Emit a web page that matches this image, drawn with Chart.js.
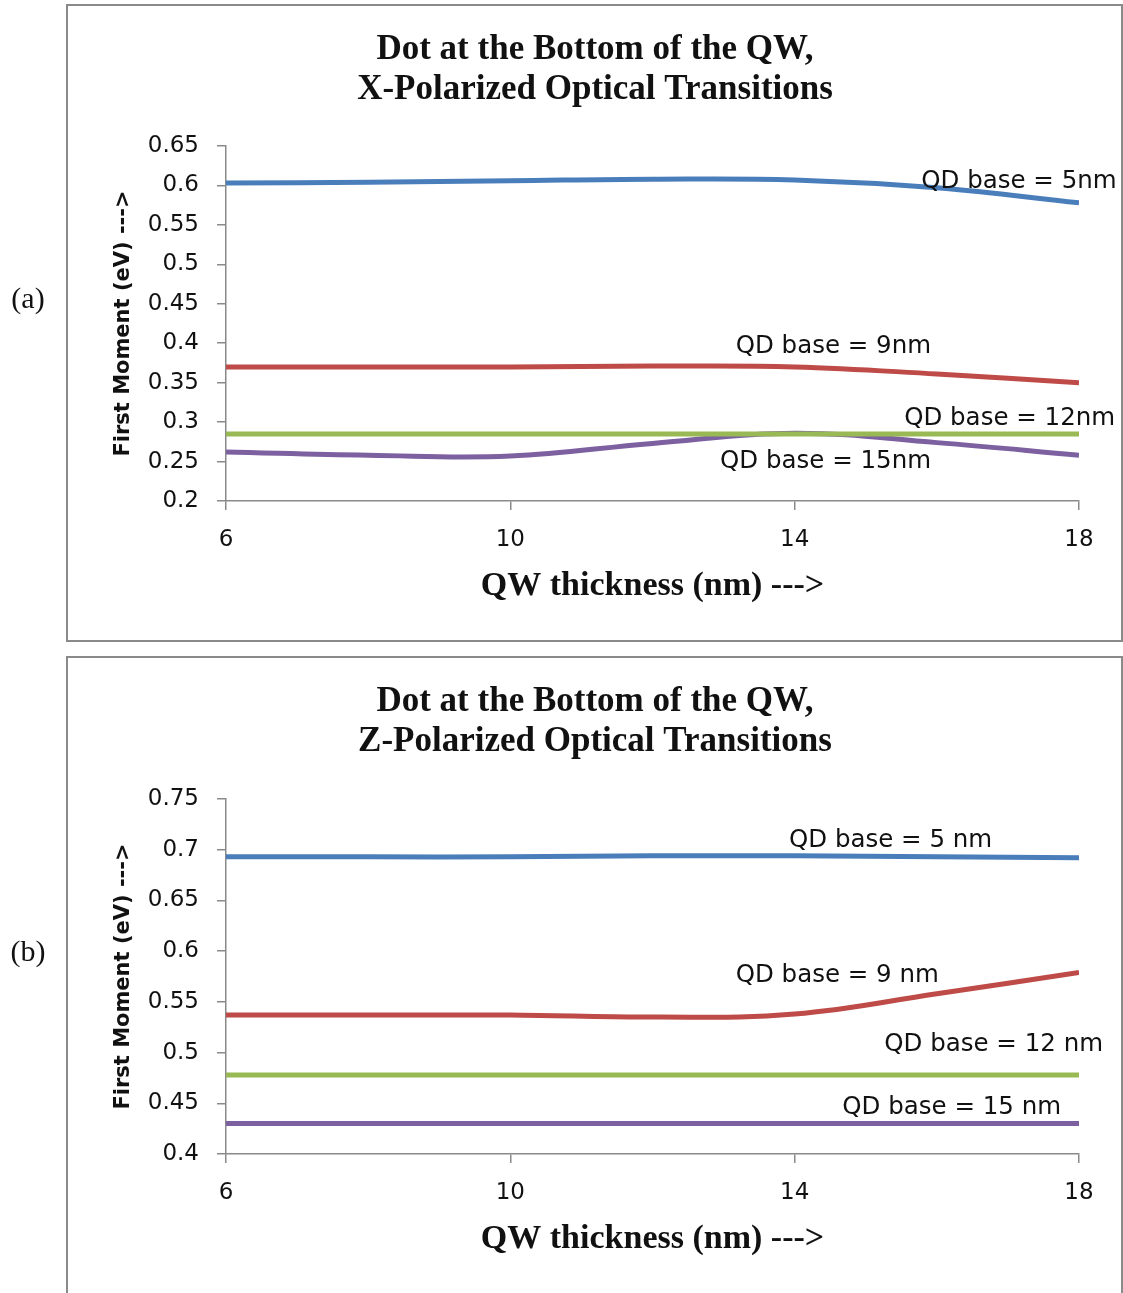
<!DOCTYPE html>
<html>
<head>
<meta charset="utf-8">
<script src="https://cdn.jsdelivr.net/npm/chart.js@4"></script>
<style>
  body { margin: 0; background: #fff; width: 1123px; height: 1293px; overflow: hidden; position: relative; }
  .panel { position: absolute; left: 0; width: 1123px; }
</style>
</head>
<body>
<div class="panel" style="top:0;height:650px"><canvas id="chartX"></canvas></div>
<div class="panel" style="top:653px;height:640px"><canvas id="chartZ"></canvas></div>
<script>
// QW thickness (nm) at which the first moment was computed
const thickness = [6, 8, 10, 12, 14, 16, 18];
const thicknessTicks = [6, 10, 14, 18];

// (a) X-polarized transitions, first moment in eV
const xBase5  = [0.603, 0.604, 0.606, 0.608, 0.607, 0.597, 0.578];
const xBase9  = [0.370, 0.370, 0.370, 0.371, 0.370, 0.361, 0.350];
const xBase12 = [0.285, 0.285, 0.285, 0.285, 0.285, 0.285, 0.285];
const xBase15 = [0.262, 0.258, 0.257, 0.273, 0.286, 0.274, 0.258];
const xTicksY = [0.2, 0.25, 0.3, 0.35, 0.4, 0.45, 0.5, 0.55, 0.6, 0.65];
const xNames  = ['QD base = 5nm', 'QD base = 9nm', 'QD base = 12nm', 'QD base = 15nm'];

// (b) Z-polarized transitions, first moment in eV
const zBase5  = [0.693, 0.693, 0.693, 0.694, 0.694, 0.693, 0.692];
const zBase9  = [0.537, 0.537, 0.537, 0.535, 0.538, 0.558, 0.579];
const zBase12 = [0.478, 0.478, 0.478, 0.478, 0.478, 0.478, 0.478];
const zBase15 = [0.430, 0.430, 0.430, 0.430, 0.430, 0.430, 0.430];
const zTicksY = [0.4, 0.45, 0.5, 0.55, 0.6, 0.65, 0.7, 0.75];
const zNames  = ['QD base = 5 nm', 'QD base = 9 nm', 'QD base = 12 nm', 'QD base = 15 nm'];

const lineColors = ['#4a7ebb', '#be4b48', '#98b954', '#7d60a0'];
const axisGray = '#8a8a8a';

// where each series name sits, in axis units (left edge, vertical middle)
const xTagSpots = [[15.78, 0.605], [13.17, 0.396], [15.54, 0.305], [12.95, 0.250]];
const zTagSpots = [[13.92, 0.709], [13.17, 0.576], [15.26, 0.508], [14.67, 0.446]];

const panelDecor = {
    id: 'panelDecor',
    beforeDraw(chart, args, opts) {
        const ctx = chart.ctx;
        ctx.save();
        ctx.strokeStyle = axisGray;
        ctx.lineWidth = 2;
        ctx.strokeRect(67, opts.boxTop, 1055, opts.boxHeight);
        ctx.fillStyle = '#111';
        ctx.textAlign = 'center';
        ctx.textBaseline = 'middle';
        ctx.font = '30px "Liberation Serif"';
        ctx.fillText(opts.letter, 28, 300);
        ctx.font = 'bold 35px "Liberation Serif"';
        opts.title.forEach((line, i) => ctx.fillText(line, 595, opts.titleY + i * 40));
        ctx.restore();
    },
    afterDatasetsDraw(chart, args, opts) {
        const {ctx, scales} = chart;
        ctx.save();
        ctx.fillStyle = '#111';
        ctx.textAlign = 'left';
        ctx.textBaseline = 'middle';
        ctx.font = '24.5px "DejaVu Sans"';
        opts.names.forEach((name, i) => {
            const [vx, vy] = opts.spots[i];
            ctx.fillText(name, scales.x.getPixelForValue(vx), scales.y.getPixelForValue(vy));
        });
        ctx.restore();
    }
};

function makeChart(id, series, yTicks, names, spots, deco) {
    const ctx = document.getElementById(id).getContext('2d');
    return new Chart(ctx, {
        type: 'line',
        data: {
            datasets: series.map((vals, i) => ({
                label: names[i],
                data: thickness.map((t, k) => ({x: t, y: vals[k]})),
                borderColor: lineColors[i],
                backgroundColor: lineColors[i],
                borderWidth: 5,
                pointRadius: 0,
                tension: 0.4
            }))
        },
        options: {
            responsive: true,
            maintainAspectRatio: false,
            animation: false,
            events: [],
            layout: { padding: { top: 146, right: 44, left: 0, bottom: deco.padBottom } },
            plugins: {
                legend: { display: false },
                tooltip: { enabled: false },
                panelDecor: { ...deco, names: names, spots: spots }
            },
            scales: {
                x: {
                    type: 'linear',
                    min: 6,
                    max: 18,
                    afterBuildTicks: s => { s.ticks = thicknessTicks.map(v => ({value: v})); },
                    afterFit: s => { s.height = 139; },
                    ticks: { color: '#111', padding: 16, font: { family: 'DejaVu Sans', size: 23 } },
                    grid: { drawOnChartArea: false, tickLength: 9, color: axisGray, lineWidth: 1.5 },
                    border: { color: axisGray, width: 1.5 },
                    title: {
                        display: true,
                        text: 'QW thickness (nm) --->',
                        color: '#111',
                        padding: { top: 0, bottom: 33 },
                        font: { family: 'Liberation Serif', size: 34, weight: 'bold' }
                    }
                },
                y: {
                    min: yTicks[0],
                    max: yTicks[yTicks.length - 1],
                    afterBuildTicks: s => { s.ticks = yTicks.map(v => ({value: v})); },
                    afterFit: s => { s.width = 226; },
                    ticks: {
                        color: '#111',
                        padding: 18,
                        font: { family: 'DejaVu Sans', size: 23 },
                        callback: v => String(Number(v.toFixed(2)))
                    },
                    grid: { drawOnChartArea: false, tickLength: 9, color: axisGray, lineWidth: 1.5 },
                    border: { color: axisGray, width: 1.5 },
                    title: {
                        display: true,
                        text: 'First Moment (eV) --->',
                        color: '#111',
                        padding: { top: 111, bottom: 0 },
                        font: { family: 'DejaVu Sans', size: 21, weight: 'bold' }
                    }
                }
            }
        },
        plugins: [panelDecor]
    });
}

makeChart('chartX', [xBase5, xBase9, xBase12, xBase15], xTicksY, xNames, xTagSpots, {
    letter: '(a)',
    title: ['Dot at the Bottom of the QW,', 'X-Polarized Optical Transitions'],
    titleY: 50,
    boxTop: 5,
    boxHeight: 636,
    padBottom: 10
});

makeChart('chartZ', [zBase5, zBase9, zBase12, zBase15], zTicksY, zNames, zTagSpots, {
    letter: '(b)',
    title: ['Dot at the Bottom of the QW,', 'Z-Polarized Optical Transitions'],
    titleY: 49,
    boxTop: 4,
    boxHeight: 700,
    padBottom: 0
});
</script>
</body>
</html>
